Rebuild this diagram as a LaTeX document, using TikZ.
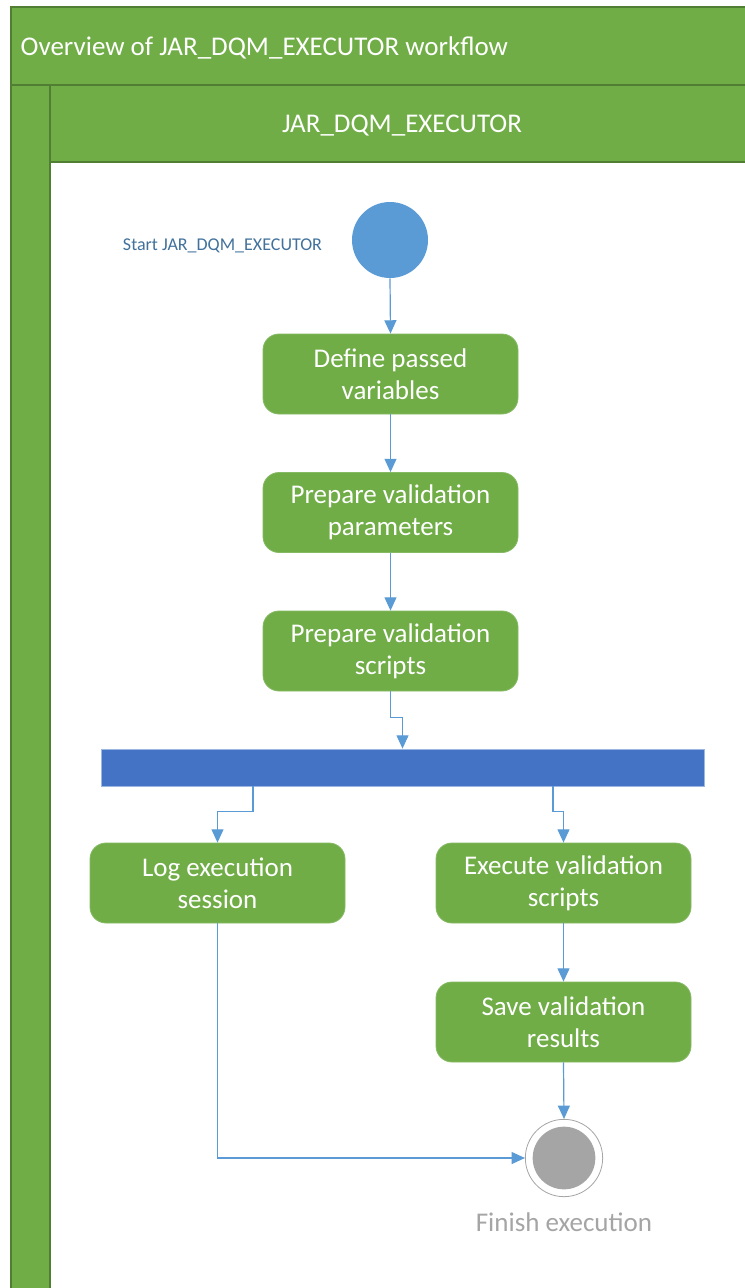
\documentclass[tikz,border=0pt]{standalone}
\usepackage{fontspec}
\setmainfont{Carlito}
\usetikzlibrary{arrows.meta,calc}
\definecolor{lanegreen}{HTML}{70AD47}
\definecolor{laneedge}{HTML}{507E32}
\definecolor{flowblue}{HTML}{5B9BD5}
\definecolor{forkblue}{HTML}{4472C4}
\definecolor{forkedge}{HTML}{9DB7E3}
\definecolor{labelblue}{HTML}{41719C}
\definecolor{endgrey}{HTML}{A5A5A5}
\tikzset{
  actbox/.style={fill=lanegreen, draw=lanegreen!85!white, line width=0.6pt,
    rounded corners=12pt, minimum width=191.25pt, minimum height=60pt,
    text=white, align=center, inner sep=2pt,
    font=\fontsize{20.25}{24}\selectfont},
  flow/.style={draw=flowblue, line width=0.9pt,
    -{Triangle[length=10pt,width=9pt]}},
  lanetext/.style={text=white, font=\fontsize{20.25}{24}\selectfont}
}
\begin{document}
\begin{tikzpicture}[x=0.75pt,y=-0.75pt]
\useasboundingbox (0,0) rectangle (745,1288);

% swimlane frame
\fill[lanegreen] (11,7) rectangle (746,1290);
\draw[laneedge, line width=0.9pt] (11,1290) -- (11,7) -- (746,7);
\draw[laneedge, line width=0.9pt] (11,85) -- (746,85);
\fill[white] (50,162) rectangle (746,1290);
\draw[laneedge, line width=0.9pt] (50,1290) -- (50,85);
\draw[laneedge, line width=0.9pt] (50,162) -- (746,162);
\node[lanetext, anchor=west] (title) at (16,47.5) {Overview of JAR\_DQM\_EXECUTOR workflow};
\node[lanetext] (lane) at (402,125.5) {JAR\_DQM\_EXECUTOR};

% start node
\node[circle, fill=flowblue, minimum size=57pt, inner sep=0pt] (start) at (390,240) {};
\node[text=labelblue, font=\fontsize{13.5}{16}\selectfont] (startlbl) at (222.5,246) {Start JAR\_DQM\_EXECUTOR};

% actions
\node[actbox] (define) at (390.5,374) {Define passed\\variables};
\node[actbox] (params) at (390.5,512.5) {Prepare validation\\parameters};
\node[actbox] (scripts) at (390.5,651) {Prepare validation\\scripts};

% fork bar
\node[fill=forkblue, draw=forkedge, line width=0.6pt, minimum width=452.25pt,
  minimum height=27.75pt, inner sep=0pt] (fork) at (402.5,767.5) {};

\node[actbox] (log) at (217.5,883) {Log execution\\session};
\node[actbox] (exec) at (563.5,883) {Execute validation\\scripts};
\node[actbox] (save) at (563.5,1022) {Save validation\\results};

% final node
\node[circle, draw=endgrey, line width=0.6pt, fill=white, minimum size=58pt, inner sep=0pt] (finish) at (564,1158) {};
\node[circle, fill=endgrey, minimum size=47pt, inner sep=0pt] (finishdot) at (finish.center) {};
\node[text=endgrey, font=\fontsize{20.25}{24}\selectfont] (finishlbl) at (564,1222) {Finish execution};

% control flow
\draw[flow] (start.south) -- (define.north);
\draw[flow] (define.south) -- (params.north);
\draw[flow] (params.south) -- (scripts.north);
\draw[flow] (scripts.south) -- ++(0,26) -| (fork.north);
\draw[flow] (fork.south -| 253,0) -- ++(0,25) -| (log.north);
\draw[flow] (fork.south -| 553,0) -- ++(0,25) -| (exec.north);
\draw[flow] (exec.south) -- (save.north);
\draw[flow] (save.south) -- (finish.north);
\draw[flow] (log.south) |- (finish.west);
\end{tikzpicture}
\end{document}
